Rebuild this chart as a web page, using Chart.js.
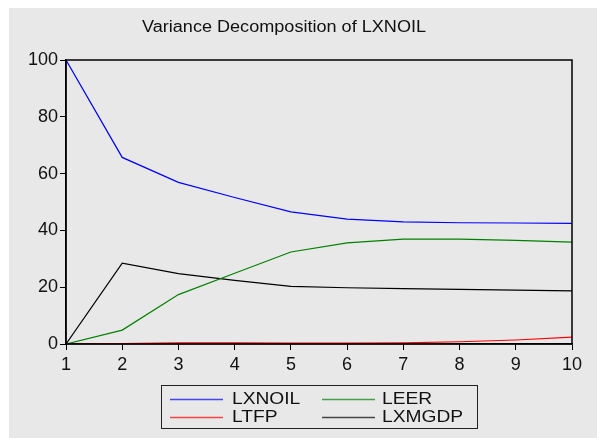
<!DOCTYPE html>
<html>
<head>
<meta charset="utf-8">
<script src="https://cdn.jsdelivr.net/npm/chart.js@4/dist/chart.umd.min.js"></script>
<style>
html,body{margin:0;padding:0;background:#fff;}
#wrap{width:597px;height:438px;position:relative;}
</style>
</head>
<body>
<div id="wrap"><canvas id="c" width="597" height="438"></canvas></div>
<script>
const periods = ['1','2','3','4','5','6','7','8','9','10'];
const lxnoil = [100, 65.7, 56.9, 51.6, 46.5, 44.0, 43.0, 42.7, 42.6, 42.5];
const leer   = [0, 4.9, 17.4, 24.9, 32.4, 35.6, 36.9, 36.9, 36.5, 35.9];
const ltfp   = [0, 0.1, 0.4, 0.4, 0.3, 0.3, 0.4, 0.8, 1.4, 2.4];
const lxmgdp = [0, 28.5, 24.8, 22.4, 20.3, 19.8, 19.5, 19.2, 19.0, 18.7];
const seriesNames = ['LXNOIL', 'LEER', 'LTFP', 'LXMGDP'];
const seriesColors = ['#0000ff', '#008000', '#ff0000', '#000000'];
const yTicks = [0, 20, 40, 60, 80, 100];
const titleText = 'Variance Decomposition of LXNOIL';

const FONT = '"Liberation Sans", Arial, sans-serif';

function stretchText(ctx, text, x, y, sx) {
  ctx.save();
  ctx.translate(x, y);
  ctx.scale(sx, 1);
  ctx.fillText(text, 0, 0);
  ctx.restore();
}

const bgPlugin = {
  id: 'bg',
  beforeDraw(chart) {
    const ctx = chart.ctx;
    ctx.save();
    ctx.fillStyle = '#ffffff';
    ctx.fillRect(0, 0, chart.width, chart.height);
    ctx.fillStyle = '#e8e8e8';
    ctx.fillRect(9, 8, chart.width - 9, chart.height - 8);
    ctx.restore();
  },
  afterDraw(chart) {
    const ctx = chart.ctx;
    const a = chart.chartArea;
    ctx.save();
    ctx.strokeStyle = '#000';
    ctx.lineWidth = 1.5;
    ctx.strokeRect(a.left, a.top, a.right - a.left, a.bottom - a.top);
    // title
    ctx.fillStyle = '#111';
    ctx.font = '16px ' + FONT;
    ctx.textAlign = 'center';
    ctx.textBaseline = 'middle';
    stretchText(ctx, titleText, 284, 28, 1.13);
    // legend
    const lx = 161, ly = 385, lw = 316, lh = 43;
    ctx.strokeStyle = '#222';
    ctx.lineWidth = 1;
    ctx.strokeRect(lx + 0.5, ly + 0.5, lw, lh);
    const lineX = [170, 322];
    const textX = [232, 382];
    const rows = [399, 417];
    ctx.font = '16px ' + FONT;
    ctx.textAlign = 'left';
    seriesNames.forEach((name, i) => {
      const c = i % 2, r = Math.floor(i / 2);
      ctx.strokeStyle = seriesColors[i];
      ctx.globalAlpha = 0.7;
      ctx.lineWidth = 1.5;
      ctx.beginPath();
      ctx.moveTo(lineX[c], rows[r] + 0.5);
      ctx.lineTo(lineX[c] + 53, rows[r] + 0.5);
      ctx.stroke();
      ctx.globalAlpha = 1;
      ctx.fillStyle = '#111';
      stretchText(ctx, name, textX[c], rows[r] + 1, 1.2);
    });
    ctx.restore();
  }
};

new Chart(document.getElementById('c'), {
  type: 'line',
  data: {
    labels: periods,
    datasets: [lxnoil, leer, ltfp, lxmgdp].map((vals, i) => ({
      label: seriesNames[i], data: vals, borderColor: seriesColors[i],
      borderWidth: 1.2, pointRadius: 0, fill: false, tension: 0
    }))
  },
  options: {
    responsive: false,
    animation: false,
    devicePixelRatio: 1,
    layout: { padding: { left: 0, top: 60, right: 25, bottom: 0 } },
    plugins: { legend: { display: false }, title: { display: false }, tooltip: { enabled: false } },
    scales: {
      x: {
        type: 'category',
        offset: false,
        grid: { drawOnChartArea: false, drawTicks: true, tickLength: 6, color: '#000', lineWidth: 1 },
        border: { display: true, color: '#000', width: 1.5 },
        ticks: { color: '#111', font: { family: FONT, size: 18 }, padding: 4, maxRotation: 0, autoSkip: false },
        afterFit(scale) { scale.height = 94; }
      },
      y: {
        min: 0, max: 100,
        afterBuildTicks(scale) { scale.ticks = yTicks.map(v => ({ value: v })); },
        grid: { drawOnChartArea: false, drawTicks: true, tickLength: 6, color: '#000', lineWidth: 1 },
        border: { display: true, color: '#000', width: 1.5 },
        ticks: { color: '#111', font: { family: FONT, size: 18 }, padding: 2 },
        afterFit(scale) { scale.width = 66; }
      }
    }
  },
  plugins: [bgPlugin]
});
</script>
</body>
</html>
